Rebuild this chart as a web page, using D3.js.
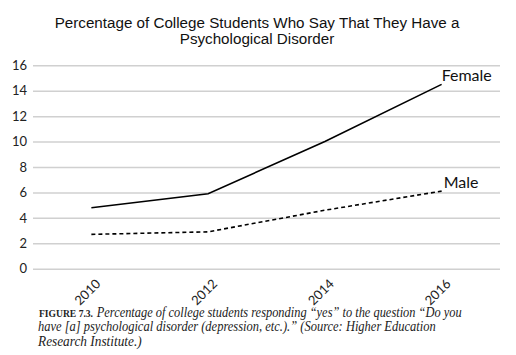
<!DOCTYPE html>
<html><head><meta charset="utf-8">
<script src="https://cdn.jsdelivr.net/npm/d3@7"></script>
<style>body{margin:0;background:#fff}svg{display:block}</style>
</head><body>
<svg id="c" width="516" height="355"></svg>
<script>
const years = ["2010","2012","2014","2016"];
const female = [4.8, 5.9, 10.0, 14.5];
const male = [2.7, 2.9, 4.6, 6.1];
const yTicks = [0,2,4,6,8,10,12,14,16];
const titleLines = ["Percentage of College Students Who Say That They Have a","Psychological Disorder"];
const captionLines = [
  ["FIGURE 7.3.", "Percentage of college students responding \u201cyes\u201d to the question \u201cDo you"],
  ["", "have [a] psychological disorder (depression, etc.).\u201d (Source: Higher Education"],
  ["", "Research Institute.)"]
];

(function(){
const svg = d3.select("#c");
const mLeft = 33, mRight = 500, mTop = 65.3, mBottom = 268.7;
const x = d3.scaleBand().domain(years).range([mLeft, mRight]);
const y = d3.scaleLinear().domain([0,16]).range([mBottom, mTop]);
const cx = d => x(d) + x.bandwidth()/2;

svg.append("g").selectAll("text").data(titleLines).join("text")
  .attr("x", 257).attr("y", (d,i)=>27.5 + i*16)
  .attr("text-anchor","middle")
  .attr("font-family","Liberation Sans, Arial, sans-serif")
  .attr("font-size",15.2).attr("fill","#111").text(d=>d);

const yAxis = d3.axisLeft(y).tickValues(yTicks).tickSize(-(mRight-mLeft)).tickPadding(6);
const gy = svg.append("g").attr("transform",`translate(${mLeft},0)`).call(yAxis);
gy.select(".domain").remove();
gy.selectAll(".tick line").attr("stroke","#d0d0d0").attr("stroke-width",1.5);
gy.selectAll(".tick text").attr("font-family","Lato, sans-serif").attr("font-size",13).attr("fill","#222").attr("x",-6);

const xAxis = d3.axisBottom(x).tickSize(0).tickPadding(0);
const gx = svg.append("g").attr("transform",`translate(0,${mBottom})`).call(xAxis);
gx.select(".domain").remove();
gx.selectAll(".tick text")
  .attr("font-family","Lato, sans-serif").attr("font-size",13).attr("fill","#222")
  .attr("text-anchor","end").attr("dy",0).attr("y",0)
  .attr("transform","translate(10,16) rotate(-45)");

const line = d3.line().x((d,i)=>cx(years[i])).y(d=>y(d));
svg.append("path").datum(female).attr("d",line).attr("fill","none").attr("stroke","#000").attr("stroke-width",1.6);
svg.append("path").datum(male).attr("d",line).attr("fill","none").attr("stroke","#000").attr("stroke-width",1.6).attr("stroke-dasharray","4,3");

svg.append("text").attr("x", cx("2016")+0).attr("y", y(female[3])-3)
  .attr("font-family","Lato, sans-serif").attr("font-size",16).attr("fill","#111").text("Female");
svg.append("text").attr("x", cx("2016")+2).attr("y", y(male[3])-3)
  .attr("font-family","Lato, sans-serif").attr("font-size",16).attr("fill","#111").text("Male");

const capY = [316.5, 331, 345.5];
const capX = [96.7, 38, 38];
const capW = [365, 397.7, 103.7];
const cap = svg.append("g").attr("font-family","Liberation Serif, serif").attr("fill","#222");
captionLines.forEach((l,i)=>{
  if (l[0]) cap.append("text").attr("x",39).attr("y",capY[i])
    .attr("font-size",10.5).attr("font-weight","bold")
    .attr("textLength",54).attr("lengthAdjust","spacingAndGlyphs").text(l[0]);
  cap.append("text").attr("x",capX[i]).attr("y",capY[i])
    .attr("font-size",14).attr("font-style","italic")
    .attr("textLength",capW[i]).attr("lengthAdjust","spacingAndGlyphs").text(l[1]);
});
})();
</script>
</body></html>
